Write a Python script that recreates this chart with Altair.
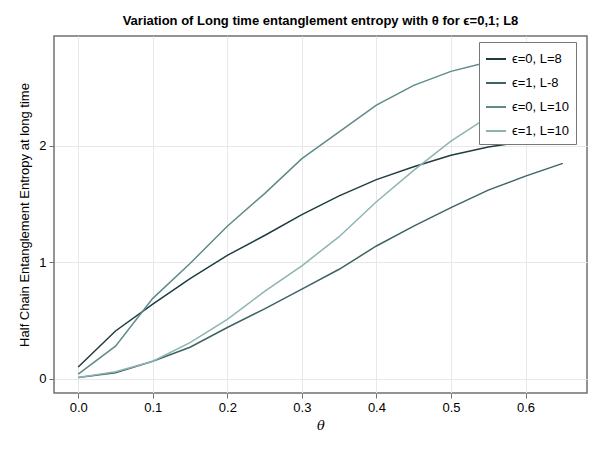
import altair as alt
import pandas as pd

theta = [0.0, 0.05, 0.1, 0.15, 0.2, 0.25, 0.3, 0.35, 0.4, 0.45, 0.5, 0.55, 0.6, 0.65]
s_e0_L8 = [0.10, 0.41, 0.64, 0.86, 1.06, 1.23, 1.41, 1.57, 1.71, 1.82, 1.92, 1.99, 2.04, 2.07]
s_e1_L8 = [0.01, 0.05, 0.15, 0.27, 0.44, 0.60, 0.77, 0.94, 1.14, 1.31, 1.47, 1.62, 1.74, 1.85]
s_e0_L10 = [0.04, 0.28, 0.69, 0.99, 1.31, 1.59, 1.89, 2.12, 2.35, 2.52, 2.64, 2.72, 2.77, 2.80]
s_e1_L10 = [0.01, 0.06, 0.15, 0.31, 0.51, 0.75, 0.97, 1.22, 1.52, 1.79, 2.04, 2.25, 2.41, 2.54]
labels = ["ϵ=0, L=8", "ϵ=1, L-8", "ϵ=0, L=10", "ϵ=1, L=10"]
colors = ["#1f3d40", "#3e6365", "#5e8b8b", "#8db4b2"]

rows = []
for lab, vals in zip(labels, [s_e0_L8, s_e1_L8, s_e0_L10, s_e1_L10]):
    for t, v in zip(theta, vals):
        rows.append({"theta": t, "S": v, "series": lab})
df = pd.DataFrame(rows)

chart = alt.Chart(df).mark_line(strokeWidth=1.5).encode(
    x=alt.X("theta:Q", scale=alt.Scale(domain=[-0.0325, 0.6825], nice=False, zero=False),
            axis=alt.Axis(title="θ", values=[0, 0.1, 0.2, 0.3, 0.4, 0.5, 0.6], format=".1f",
                          titleFont="DejaVu Serif", titleFontStyle="italic", titleFontWeight="normal",
                          titleFontSize=13, titlePadding=5)),
    y=alt.Y("S:Q", scale=alt.Scale(domain=[-0.123, 2.944], nice=False, zero=False),
            axis=alt.Axis(title="Half Chain Entanglement Entropy at long time", values=[0, 1, 2],
                          format="d", titleFontWeight="normal", titleFontSize=13, titlePadding=7)),
    color=alt.Color("series:N", scale=alt.Scale(domain=labels, range=colors),
                    legend=alt.Legend(title=None, orient="none", legendX=425, legendY=6,
                                      symbolType="stroke",
                                      symbolStrokeWidth=2, symbolSize=400, labelFontSize=13,
                                      labelFont="Liberation Sans", strokeColor="#777777",
                                      fillColor="white", padding=6, rowPadding=6,
                                      labelOffset=5, cornerRadius=0)),
    order=alt.Order("theta:Q"),
).properties(
    width=533, height=357,
    title=alt.TitleParams("Variation of Long time entanglement entropy with θ for ϵ=0,1; L8",
                          fontSize=13, fontWeight="bold", font="Liberation Sans", offset=8),
    padding={"left": 46, "top": 28, "right": 5, "bottom": 40},
    autosize=alt.AutoSizeParams(type="none"),
).configure_view(
    stroke="#707070", strokeWidth=1.5
).configure_axis(
    domain=False, grid=True, gridColor="#e8e8e8", gridWidth=1,
    tickColor="#707070", tickSize=5, labelFontSize=13, labelFont="Liberation Sans",
    titleFont="Liberation Sans", labelColor="black", titleColor="black", labelPadding=3
)

chart.save("out.html", embed_options={"renderer": "svg", "actions": False})
